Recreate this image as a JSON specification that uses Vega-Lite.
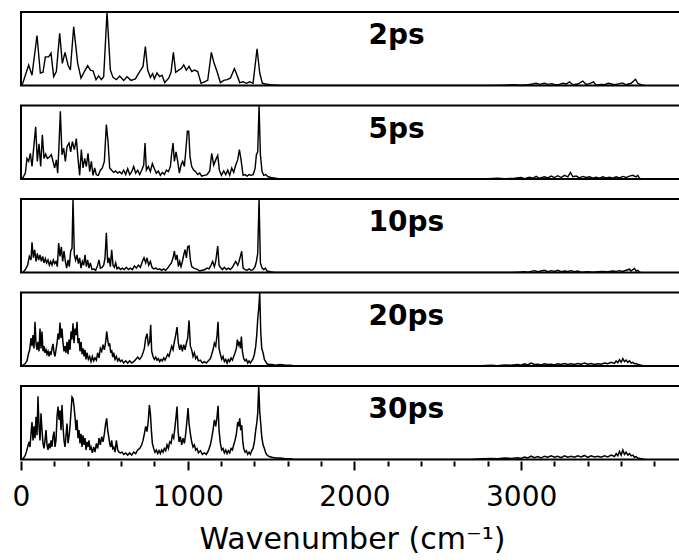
{
"$schema": "https://vega.github.io/schema/vega-lite/v6.json",
"padding": {"left": 12, "top": 11, "right": 0, "bottom": 0},
"background": "white",
"config": {"view": {"stroke": "black", "strokeWidth": 2}, "font": "DejaVu Sans"},
"data": {"values": [
{"p":"2ps","x":4,"y":0},{"p":"2ps","x":12,"y":0.04},{"p":"2ps","x":46,"y":0.28},{"p":"2ps","x":66,"y":0.14},{"p":"2ps","x":96,"y":0.68},{"p":"2ps","x":116,"y":0.17},{"p":"2ps","x":132,"y":0.18},{"p":"2ps","x":146,"y":0.39},{"p":"2ps","x":166,"y":0.39},{"p":"2ps","x":180,"y":0.44},{"p":"2ps","x":196,"y":0.12},{"p":"2ps","x":212,"y":0.19},{"p":"2ps","x":232,"y":0.71},{"p":"2ps","x":248,"y":0.30},{"p":"2ps","x":264,"y":0.45},{"p":"2ps","x":282,"y":0.28},{"p":"2ps","x":296,"y":0.21},{"p":"2ps","x":316,"y":0.80},{"p":"2ps","x":340,"y":0.30},{"p":"2ps","x":360,"y":0.10},{"p":"2ps","x":380,"y":0.19},{"p":"2ps","x":400,"y":0.27},{"p":"2ps","x":416,"y":0.21},{"p":"2ps","x":432,"y":0.20},{"p":"2ps","x":450,"y":0.08},{"p":"2ps","x":466,"y":0.13},{"p":"2ps","x":482,"y":0.08},{"p":"2ps","x":496,"y":0.12},{"p":"2ps","x":516,"y":1.0},{"p":"2ps","x":536,"y":0.21},{"p":"2ps","x":552,"y":0.11},{"p":"2ps","x":572,"y":0.08},{"p":"2ps","x":592,"y":0.13},{"p":"2ps","x":616,"y":0.07},{"p":"2ps","x":636,"y":0.12},{"p":"2ps","x":660,"y":0.07},{"p":"2ps","x":686,"y":0.09},{"p":"2ps","x":712,"y":0.19},{"p":"2ps","x":732,"y":0.26},{"p":"2ps","x":746,"y":0.53},{"p":"2ps","x":760,"y":0.21},{"p":"2ps","x":776,"y":0.11},{"p":"2ps","x":790,"y":0.16},{"p":"2ps","x":800,"y":0.09},{"p":"2ps","x":816,"y":0.17},{"p":"2ps","x":832,"y":0.12},{"p":"2ps","x":846,"y":0.14},{"p":"2ps","x":862,"y":0.04},{"p":"2ps","x":886,"y":0.10},{"p":"2ps","x":900,"y":0.18},{"p":"2ps","x":914,"y":0.45},{"p":"2ps","x":928,"y":0.18},{"p":"2ps","x":946,"y":0.21},{"p":"2ps","x":962,"y":0.23},{"p":"2ps","x":976,"y":0.28},{"p":"2ps","x":992,"y":0.21},{"p":"2ps","x":1008,"y":0.26},{"p":"2ps","x":1024,"y":0.19},{"p":"2ps","x":1040,"y":0.21},{"p":"2ps","x":1060,"y":0.19},{"p":"2ps","x":1080,"y":0.03},{"p":"2ps","x":1100,"y":0.05},{"p":"2ps","x":1120,"y":0.07},{"p":"2ps","x":1142,"y":0.45},{"p":"2ps","x":1156,"y":0.32},{"p":"2ps","x":1176,"y":0.19},{"p":"2ps","x":1196,"y":0.04},{"p":"2ps","x":1216,"y":0.07},{"p":"2ps","x":1236,"y":0.08},{"p":"2ps","x":1256,"y":0.10},{"p":"2ps","x":1280,"y":0.23},{"p":"2ps","x":1296,"y":0.14},{"p":"2ps","x":1312,"y":0.04},{"p":"2ps","x":1332,"y":0.05},{"p":"2ps","x":1352,"y":0.03},{"p":"2ps","x":1372,"y":0.05},{"p":"2ps","x":1392,"y":0.03},{"p":"2ps","x":1416,"y":0.50},{"p":"2ps","x":1432,"y":0.17},{"p":"2ps","x":1448,"y":0.03},{"p":"2ps","x":1466,"y":0.02},{"p":"2ps","x":1496,"y":0.01},{"p":"2ps","x":1536,"y":0.005},{"p":"2ps","x":1566,"y":0},
{"p":"2ps","x":2800,"y":0},{"p":"2ps","x":2900,"y":0.005},{"p":"2ps","x":2960,"y":0.01},{"p":"2ps","x":3000,"y":0.005},{"p":"2ps","x":3040,"y":0.01},{"p":"2ps","x":3070,"y":0.02},{"p":"2ps","x":3090,"y":0.03},{"p":"2ps","x":3110,"y":0.015},{"p":"2ps","x":3140,"y":0.03},{"p":"2ps","x":3160,"y":0.015},{"p":"2ps","x":3185,"y":0.025},{"p":"2ps","x":3200,"y":0.01},{"p":"2ps","x":3230,"y":0.015},{"p":"2ps","x":3250,"y":0.03},{"p":"2ps","x":3270,"y":0.02},{"p":"2ps","x":3290,"y":0.05},{"p":"2ps","x":3310,"y":0.01},{"p":"2ps","x":3340,"y":0.02},{"p":"2ps","x":3370,"y":0.06},{"p":"2ps","x":3390,"y":0.015},{"p":"2ps","x":3410,"y":0.025},{"p":"2ps","x":3434,"y":0.05},{"p":"2ps","x":3450,"y":0.005},{"p":"2ps","x":3480,"y":0.015},{"p":"2ps","x":3500,"y":0.01},{"p":"2ps","x":3524,"y":0.03},{"p":"2ps","x":3560,"y":0.01},{"p":"2ps","x":3590,"y":0.025},{"p":"2ps","x":3608,"y":0.035},{"p":"2ps","x":3630,"y":0.01},{"p":"2ps","x":3660,"y":0.03},{"p":"2ps","x":3686,"y":0.085},{"p":"2ps","x":3700,"y":0.03},{"p":"2ps","x":3720,"y":0.01},{"p":"2ps","x":3740,"y":0},
{"p":"5ps","x":4,"y":0},{"p":"5ps","x":12,"y":0.02},{"p":"5ps","x":26,"y":0.08},{"p":"5ps","x":36,"y":0.28},{"p":"5ps","x":46,"y":0.24},{"p":"5ps","x":56,"y":0.35},{"p":"5ps","x":66,"y":0.17},{"p":"5ps","x":76,"y":0.42},{"p":"5ps","x":88,"y":0.71},{"p":"5ps","x":98,"y":0.24},{"p":"5ps","x":108,"y":0.48},{"p":"5ps","x":118,"y":0.17},{"p":"5ps","x":128,"y":0.60},{"p":"5ps","x":138,"y":0.28},{"p":"5ps","x":148,"y":0.34},{"p":"5ps","x":158,"y":0.28},{"p":"5ps","x":170,"y":0.30},{"p":"5ps","x":182,"y":0.33},{"p":"5ps","x":192,"y":0.24},{"p":"5ps","x":202,"y":0.15},{"p":"5ps","x":212,"y":0.26},{"p":"5ps","x":220,"y":0.08},{"p":"5ps","x":228,"y":0.46},{"p":"5ps","x":236,"y":0.92},{"p":"5ps","x":246,"y":0.33},{"p":"5ps","x":256,"y":0.42},{"p":"5ps","x":266,"y":0.24},{"p":"5ps","x":276,"y":0.44},{"p":"5ps","x":288,"y":0.49},{"p":"5ps","x":298,"y":0.37},{"p":"5ps","x":308,"y":0.51},{"p":"5ps","x":320,"y":0.40},{"p":"5ps","x":332,"y":0.55},{"p":"5ps","x":342,"y":0.28},{"p":"5ps","x":352,"y":0.05},{"p":"5ps","x":362,"y":0.40},{"p":"5ps","x":372,"y":0.15},{"p":"5ps","x":382,"y":0.28},{"p":"5ps","x":392,"y":0.17},{"p":"5ps","x":402,"y":0.35},{"p":"5ps","x":412,"y":0.10},{"p":"5ps","x":422,"y":0.24},{"p":"5ps","x":432,"y":0.05},{"p":"5ps","x":442,"y":0.15},{"p":"5ps","x":452,"y":0.06},{"p":"5ps","x":464,"y":0.05},{"p":"5ps","x":476,"y":0.12},{"p":"5ps","x":488,"y":0.15},{"p":"5ps","x":500,"y":0.24},{"p":"5ps","x":512,"y":0.74},{"p":"5ps","x":522,"y":0.51},{"p":"5ps","x":532,"y":0.15},{"p":"5ps","x":544,"y":0.12},{"p":"5ps","x":556,"y":0.09},{"p":"5ps","x":568,"y":0.11},{"p":"5ps","x":580,"y":0.08},{"p":"5ps","x":592,"y":0.10},{"p":"5ps","x":604,"y":0.07},{"p":"5ps","x":616,"y":0.12},{"p":"5ps","x":628,"y":0.06},{"p":"5ps","x":640,"y":0.14},{"p":"5ps","x":652,"y":0.06},{"p":"5ps","x":664,"y":0.10},{"p":"5ps","x":676,"y":0.17},{"p":"5ps","x":688,"y":0.08},{"p":"5ps","x":700,"y":0.12},{"p":"5ps","x":712,"y":0.06},{"p":"5ps","x":724,"y":0.12},{"p":"5ps","x":736,"y":0.19},{"p":"5ps","x":744,"y":0.49},{"p":"5ps","x":752,"y":0.12},{"p":"5ps","x":764,"y":0.17},{"p":"5ps","x":776,"y":0.10},{"p":"5ps","x":788,"y":0.21},{"p":"5ps","x":800,"y":0.14},{"p":"5ps","x":812,"y":0.08},{"p":"5ps","x":824,"y":0.11},{"p":"5ps","x":836,"y":0.05},{"p":"5ps","x":848,"y":0.09},{"p":"5ps","x":860,"y":0.06},{"p":"5ps","x":872,"y":0.12},{"p":"5ps","x":884,"y":0.10},{"p":"5ps","x":896,"y":0.17},{"p":"5ps","x":904,"y":0.35},{"p":"5ps","x":912,"y":0.49},{"p":"5ps","x":920,"y":0.24},{"p":"5ps","x":930,"y":0.37},{"p":"5ps","x":940,"y":0.24},{"p":"5ps","x":950,"y":0.08},{"p":"5ps","x":960,"y":0.19},{"p":"5ps","x":970,"y":0.24},{"p":"5ps","x":980,"y":0.17},{"p":"5ps","x":988,"y":0.37},{"p":"5ps","x":998,"y":0.65},{"p":"5ps","x":1006,"y":0.65},{"p":"5ps","x":1014,"y":0.30},{"p":"5ps","x":1024,"y":0.17},{"p":"5ps","x":1036,"y":0.12},{"p":"5ps","x":1048,"y":0.10},{"p":"5ps","x":1060,"y":0.06},{"p":"5ps","x":1072,"y":0.08},{"p":"5ps","x":1084,"y":0.04},{"p":"5ps","x":1100,"y":0.05},{"p":"5ps","x":1116,"y":0.06},{"p":"5ps","x":1132,"y":0.11},{"p":"5ps","x":1144,"y":0.35},{"p":"5ps","x":1156,"y":0.19},{"p":"5ps","x":1168,"y":0.26},{"p":"5ps","x":1180,"y":0.32},{"p":"5ps","x":1190,"y":0.12},{"p":"5ps","x":1202,"y":0.05},{"p":"5ps","x":1216,"y":0.11},{"p":"5ps","x":1228,"y":0.06},{"p":"5ps","x":1240,"y":0.12},{"p":"5ps","x":1252,"y":0.05},{"p":"5ps","x":1264,"y":0.15},{"p":"5ps","x":1276,"y":0.09},{"p":"5ps","x":1288,"y":0.19},{"p":"5ps","x":1300,"y":0.26},{"p":"5ps","x":1310,"y":0.40},{"p":"5ps","x":1320,"y":0.26},{"p":"5ps","x":1332,"y":0.05},{"p":"5ps","x":1344,"y":0.06},{"p":"5ps","x":1356,"y":0.04},{"p":"5ps","x":1368,"y":0.06},{"p":"5ps","x":1380,"y":0.05},{"p":"5ps","x":1392,"y":0.06},{"p":"5ps","x":1404,"y":0.14},{"p":"5ps","x":1412,"y":0.33},{"p":"5ps","x":1420,"y":0.37},{"p":"5ps","x":1428,"y":1.0},{"p":"5ps","x":1436,"y":0.33},{"p":"5ps","x":1446,"y":0.10},{"p":"5ps","x":1456,"y":0.05},{"p":"5ps","x":1468,"y":0.06},{"p":"5ps","x":1482,"y":0.03},{"p":"5ps","x":1500,"y":0.02},{"p":"5ps","x":1526,"y":0.01},{"p":"5ps","x":1552,"y":0},
{"p":"5ps","x":2740,"y":0},{"p":"5ps","x":2800,"y":0.005},{"p":"5ps","x":2860,"y":0.01},{"p":"5ps","x":2900,"y":0.005},{"p":"5ps","x":2960,"y":0.01},{"p":"5ps","x":3000,"y":0.02},{"p":"5ps","x":3020,"y":0.005},{"p":"5ps","x":3050,"y":0.025},{"p":"5ps","x":3070,"y":0.01},{"p":"5ps","x":3090,"y":0.035},{"p":"5ps","x":3110,"y":0.01},{"p":"5ps","x":3140,"y":0.03},{"p":"5ps","x":3160,"y":0.015},{"p":"5ps","x":3180,"y":0.04},{"p":"5ps","x":3200,"y":0.02},{"p":"5ps","x":3220,"y":0.045},{"p":"5ps","x":3240,"y":0.02},{"p":"5ps","x":3260,"y":0.05},{"p":"5ps","x":3280,"y":0.03},{"p":"5ps","x":3296,"y":0.09},{"p":"5ps","x":3310,"y":0.03},{"p":"5ps","x":3330,"y":0.04},{"p":"5ps","x":3350,"y":0.015},{"p":"5ps","x":3370,"y":0.035},{"p":"5ps","x":3390,"y":0.02},{"p":"5ps","x":3410,"y":0.03},{"p":"5ps","x":3430,"y":0.01},{"p":"5ps","x":3450,"y":0.025},{"p":"5ps","x":3470,"y":0.01},{"p":"5ps","x":3490,"y":0.03},{"p":"5ps","x":3510,"y":0.015},{"p":"5ps","x":3530,"y":0.025},{"p":"5ps","x":3550,"y":0.01},{"p":"5ps","x":3570,"y":0.03},{"p":"5ps","x":3590,"y":0.015},{"p":"5ps","x":3610,"y":0.035},{"p":"5ps","x":3630,"y":0.02},{"p":"5ps","x":3650,"y":0.04},{"p":"5ps","x":3670,"y":0.05},{"p":"5ps","x":3690,"y":0.03},{"p":"5ps","x":3700,"y":0.05},{"p":"5ps","x":3710,"y":0.01},{"p":"5ps","x":3720,"y":0},
{"p":"10ps","x":4,"y":0},{"p":"10ps","x":16,"y":0.01},{"p":"10ps","x":28,"y":0.05},{"p":"10ps","x":40,"y":0.10},{"p":"10ps","x":50,"y":0.22},{"p":"10ps","x":60,"y":0.17},{"p":"10ps","x":66,"y":0.41},{"p":"10ps","x":74,"y":0.20},{"p":"10ps","x":82,"y":0.31},{"p":"10ps","x":90,"y":0.15},{"p":"10ps","x":98,"y":0.26},{"p":"10ps","x":106,"y":0.17},{"p":"10ps","x":114,"y":0.24},{"p":"10ps","x":122,"y":0.15},{"p":"10ps","x":130,"y":0.22},{"p":"10ps","x":138,"y":0.13},{"p":"10ps","x":146,"y":0.19},{"p":"10ps","x":154,"y":0.13},{"p":"10ps","x":162,"y":0.17},{"p":"10ps","x":170,"y":0.10},{"p":"10ps","x":178,"y":0.15},{"p":"10ps","x":186,"y":0.10},{"p":"10ps","x":194,"y":0.17},{"p":"10ps","x":202,"y":0.12},{"p":"10ps","x":210,"y":0.15},{"p":"10ps","x":218,"y":0.08},{"p":"10ps","x":226,"y":0.40},{"p":"10ps","x":234,"y":0.22},{"p":"10ps","x":242,"y":0.35},{"p":"10ps","x":250,"y":0.15},{"p":"10ps","x":258,"y":0.29},{"p":"10ps","x":266,"y":0.15},{"p":"10ps","x":274,"y":0.06},{"p":"10ps","x":282,"y":0.17},{"p":"10ps","x":290,"y":0.08},{"p":"10ps","x":298,"y":0.29},{"p":"10ps","x":306,"y":0.33},{"p":"10ps","x":312,"y":1.0},{"p":"10ps","x":320,"y":0.24},{"p":"10ps","x":328,"y":0.17},{"p":"10ps","x":336,"y":0.24},{"p":"10ps","x":344,"y":0.12},{"p":"10ps","x":352,"y":0.20},{"p":"10ps","x":360,"y":0.06},{"p":"10ps","x":368,"y":0.15},{"p":"10ps","x":376,"y":0.10},{"p":"10ps","x":384,"y":0.24},{"p":"10ps","x":392,"y":0.08},{"p":"10ps","x":400,"y":0.17},{"p":"10ps","x":408,"y":0.06},{"p":"10ps","x":416,"y":0.13},{"p":"10ps","x":426,"y":0.04},{"p":"10ps","x":436,"y":0.05},{"p":"10ps","x":448,"y":0.03},{"p":"10ps","x":460,"y":0.10},{"p":"10ps","x":468,"y":0.17},{"p":"10ps","x":476,"y":0.06},{"p":"10ps","x":486,"y":0.07},{"p":"10ps","x":496,"y":0.10},{"p":"10ps","x":504,"y":0.20},{"p":"10ps","x":512,"y":0.54},{"p":"10ps","x":520,"y":0.13},{"p":"10ps","x":528,"y":0.20},{"p":"10ps","x":536,"y":0.08},{"p":"10ps","x":544,"y":0.31},{"p":"10ps","x":552,"y":0.10},{"p":"10ps","x":560,"y":0.07},{"p":"10ps","x":568,"y":0.13},{"p":"10ps","x":576,"y":0.05},{"p":"10ps","x":586,"y":0.07},{"p":"10ps","x":596,"y":0.04},{"p":"10ps","x":608,"y":0.06},{"p":"10ps","x":620,"y":0.04},{"p":"10ps","x":632,"y":0.07},{"p":"10ps","x":644,"y":0.04},{"p":"10ps","x":656,"y":0.06},{"p":"10ps","x":668,"y":0.04},{"p":"10ps","x":680,"y":0.09},{"p":"10ps","x":692,"y":0.06},{"p":"10ps","x":704,"y":0.10},{"p":"10ps","x":716,"y":0.07},{"p":"10ps","x":728,"y":0.15},{"p":"10ps","x":738,"y":0.20},{"p":"10ps","x":748,"y":0.13},{"p":"10ps","x":756,"y":0.20},{"p":"10ps","x":766,"y":0.10},{"p":"10ps","x":776,"y":0.15},{"p":"10ps","x":786,"y":0.07},{"p":"10ps","x":796,"y":0.05},{"p":"10ps","x":808,"y":0.06},{"p":"10ps","x":820,"y":0.04},{"p":"10ps","x":832,"y":0.05},{"p":"10ps","x":844,"y":0.03},{"p":"10ps","x":856,"y":0.05},{"p":"10ps","x":868,"y":0.03},{"p":"10ps","x":880,"y":0.06},{"p":"10ps","x":892,"y":0.10},{"p":"10ps","x":902,"y":0.13},{"p":"10ps","x":912,"y":0.20},{"p":"10ps","x":920,"y":0.29},{"p":"10ps","x":928,"y":0.17},{"p":"10ps","x":936,"y":0.24},{"p":"10ps","x":944,"y":0.08},{"p":"10ps","x":952,"y":0.15},{"p":"10ps","x":960,"y":0.08},{"p":"10ps","x":968,"y":0.15},{"p":"10ps","x":976,"y":0.24},{"p":"10ps","x":984,"y":0.31},{"p":"10ps","x":992,"y":0.20},{"p":"10ps","x":1000,"y":0.35},{"p":"10ps","x":1008,"y":0.36},{"p":"10ps","x":1016,"y":0.17},{"p":"10ps","x":1024,"y":0.08},{"p":"10ps","x":1036,"y":0.06},{"p":"10ps","x":1048,"y":0.05},{"p":"10ps","x":1060,"y":0.04},{"p":"10ps","x":1072,"y":0.02},{"p":"10ps","x":1088,"y":0.03},{"p":"10ps","x":1104,"y":0.04},{"p":"10ps","x":1116,"y":0.06},{"p":"10ps","x":1128,"y":0.05},{"p":"10ps","x":1140,"y":0.10},{"p":"10ps","x":1150,"y":0.15},{"p":"10ps","x":1160,"y":0.08},{"p":"10ps","x":1168,"y":0.15},{"p":"10ps","x":1180,"y":0.36},{"p":"10ps","x":1188,"y":0.10},{"p":"10ps","x":1196,"y":0.07},{"p":"10ps","x":1208,"y":0.04},{"p":"10ps","x":1220,"y":0.07},{"p":"10ps","x":1232,"y":0.04},{"p":"10ps","x":1244,"y":0.06},{"p":"10ps","x":1256,"y":0.04},{"p":"10ps","x":1268,"y":0.07},{"p":"10ps","x":1280,"y":0.12},{"p":"10ps","x":1288,"y":0.15},{"p":"10ps","x":1300,"y":0.10},{"p":"10ps","x":1308,"y":0.15},{"p":"10ps","x":1316,"y":0.22},{"p":"10ps","x":1324,"y":0.29},{"p":"10ps","x":1332,"y":0.06},{"p":"10ps","x":1344,"y":0.04},{"p":"10ps","x":1356,"y":0.03},{"p":"10ps","x":1368,"y":0.05},{"p":"10ps","x":1380,"y":0.03},{"p":"10ps","x":1392,"y":0.04},{"p":"10ps","x":1404,"y":0.08},{"p":"10ps","x":1412,"y":0.15},{"p":"10ps","x":1420,"y":0.26},{"p":"10ps","x":1428,"y":1.0},{"p":"10ps","x":1436,"y":0.13},{"p":"10ps","x":1446,"y":0.06},{"p":"10ps","x":1456,"y":0.04},{"p":"10ps","x":1466,"y":0.06},{"p":"10ps","x":1476,"y":0.02},{"p":"10ps","x":1496,"y":0.01},{"p":"10ps","x":1520,"y":0},
{"p":"10ps","x":2940,"y":0},{"p":"10ps","x":2980,"y":0.005},{"p":"10ps","x":3020,"y":0.01},{"p":"10ps","x":3040,"y":0.005},{"p":"10ps","x":3060,"y":0.015},{"p":"10ps","x":3080,"y":0.025},{"p":"10ps","x":3100,"y":0.01},{"p":"10ps","x":3120,"y":0.02},{"p":"10ps","x":3140,"y":0.03},{"p":"10ps","x":3160,"y":0.01},{"p":"10ps","x":3180,"y":0.025},{"p":"10ps","x":3200,"y":0.015},{"p":"10ps","x":3220,"y":0.03},{"p":"10ps","x":3240,"y":0.01},{"p":"10ps","x":3260,"y":0.02},{"p":"10ps","x":3280,"y":0.015},{"p":"10ps","x":3300,"y":0.025},{"p":"10ps","x":3320,"y":0.01},{"p":"10ps","x":3340,"y":0.02},{"p":"10ps","x":3360,"y":0.005},{"p":"10ps","x":3400,"y":0.01},{"p":"10ps","x":3430,"y":0.005},{"p":"10ps","x":3460,"y":0.01},{"p":"10ps","x":3490,"y":0.015},{"p":"10ps","x":3520,"y":0.01},{"p":"10ps","x":3550,"y":0.02},{"p":"10ps","x":3570,"y":0.015},{"p":"10ps","x":3590,"y":0.025},{"p":"10ps","x":3610,"y":0.015},{"p":"10ps","x":3630,"y":0.03},{"p":"10ps","x":3650,"y":0.045},{"p":"10ps","x":3660,"y":0.02},{"p":"10ps","x":3670,"y":0.04},{"p":"10ps","x":3680,"y":0.055},{"p":"10ps","x":3690,"y":0.02},{"p":"10ps","x":3700,"y":0.03},{"p":"10ps","x":3710,"y":0.005},{"p":"10ps","x":3720,"y":0},
{"p":"20ps","x":4,"y":0},{"p":"20ps","x":12,"y":0.01},{"p":"20ps","x":24,"y":0.03},{"p":"20ps","x":36,"y":0.07},{"p":"20ps","x":44,"y":0.16},{"p":"20ps","x":52,"y":0.22},{"p":"20ps","x":60,"y":0.38},{"p":"20ps","x":66,"y":0.27},{"p":"20ps","x":72,"y":0.42},{"p":"20ps","x":78,"y":0.24},{"p":"20ps","x":84,"y":0.60},{"p":"20ps","x":90,"y":0.31},{"p":"20ps","x":96,"y":0.22},{"p":"20ps","x":102,"y":0.33},{"p":"20ps","x":108,"y":0.20},{"p":"20ps","x":114,"y":0.51},{"p":"20ps","x":120,"y":0.24},{"p":"20ps","x":126,"y":0.47},{"p":"20ps","x":132,"y":0.20},{"p":"20ps","x":138,"y":0.27},{"p":"20ps","x":144,"y":0.18},{"p":"20ps","x":150,"y":0.22},{"p":"20ps","x":156,"y":0.16},{"p":"20ps","x":162,"y":0.20},{"p":"20ps","x":168,"y":0.13},{"p":"20ps","x":174,"y":0.20},{"p":"20ps","x":180,"y":0.15},{"p":"20ps","x":186,"y":0.24},{"p":"20ps","x":192,"y":0.30},{"p":"20ps","x":198,"y":0.18},{"p":"20ps","x":204,"y":0.13},{"p":"20ps","x":210,"y":0.22},{"p":"20ps","x":216,"y":0.31},{"p":"20ps","x":222,"y":0.44},{"p":"20ps","x":228,"y":0.36},{"p":"20ps","x":234,"y":0.59},{"p":"20ps","x":240,"y":0.38},{"p":"20ps","x":246,"y":0.51},{"p":"20ps","x":252,"y":0.31},{"p":"20ps","x":258,"y":0.20},{"p":"20ps","x":264,"y":0.27},{"p":"20ps","x":270,"y":0.18},{"p":"20ps","x":276,"y":0.33},{"p":"20ps","x":282,"y":0.16},{"p":"20ps","x":288,"y":0.36},{"p":"20ps","x":294,"y":0.22},{"p":"20ps","x":300,"y":0.47},{"p":"20ps","x":306,"y":0.36},{"p":"20ps","x":312,"y":0.58},{"p":"20ps","x":318,"y":0.31},{"p":"20ps","x":324,"y":0.51},{"p":"20ps","x":330,"y":0.42},{"p":"20ps","x":336,"y":0.60},{"p":"20ps","x":342,"y":0.31},{"p":"20ps","x":348,"y":0.38},{"p":"20ps","x":354,"y":0.20},{"p":"20ps","x":360,"y":0.33},{"p":"20ps","x":366,"y":0.16},{"p":"20ps","x":372,"y":0.24},{"p":"20ps","x":378,"y":0.13},{"p":"20ps","x":384,"y":0.22},{"p":"20ps","x":390,"y":0.09},{"p":"20ps","x":396,"y":0.18},{"p":"20ps","x":404,"y":0.09},{"p":"20ps","x":412,"y":0.13},{"p":"20ps","x":420,"y":0.06},{"p":"20ps","x":428,"y":0.13},{"p":"20ps","x":436,"y":0.07},{"p":"20ps","x":444,"y":0.11},{"p":"20ps","x":452,"y":0.08},{"p":"20ps","x":460,"y":0.18},{"p":"20ps","x":468,"y":0.11},{"p":"20ps","x":476,"y":0.24},{"p":"20ps","x":484,"y":0.20},{"p":"20ps","x":492,"y":0.29},{"p":"20ps","x":500,"y":0.22},{"p":"20ps","x":508,"y":0.33},{"p":"20ps","x":514,"y":0.47},{"p":"20ps","x":520,"y":0.36},{"p":"20ps","x":526,"y":0.27},{"p":"20ps","x":532,"y":0.31},{"p":"20ps","x":538,"y":0.18},{"p":"20ps","x":544,"y":0.22},{"p":"20ps","x":550,"y":0.12},{"p":"20ps","x":556,"y":0.18},{"p":"20ps","x":564,"y":0.09},{"p":"20ps","x":572,"y":0.13},{"p":"20ps","x":580,"y":0.07},{"p":"20ps","x":588,"y":0.10},{"p":"20ps","x":596,"y":0.06},{"p":"20ps","x":606,"y":0.08},{"p":"20ps","x":616,"y":0.04},{"p":"20ps","x":628,"y":0.07},{"p":"20ps","x":640,"y":0.04},{"p":"20ps","x":652,"y":0.07},{"p":"20ps","x":664,"y":0.04},{"p":"20ps","x":676,"y":0.06},{"p":"20ps","x":688,"y":0.09},{"p":"20ps","x":700,"y":0.12},{"p":"20ps","x":712,"y":0.09},{"p":"20ps","x":724,"y":0.13},{"p":"20ps","x":732,"y":0.18},{"p":"20ps","x":740,"y":0.24},{"p":"20ps","x":748,"y":0.38},{"p":"20ps","x":756,"y":0.44},{"p":"20ps","x":764,"y":0.29},{"p":"20ps","x":772,"y":0.33},{"p":"20ps","x":778,"y":0.56},{"p":"20ps","x":784,"y":0.20},{"p":"20ps","x":792,"y":0.13},{"p":"20ps","x":800,"y":0.09},{"p":"20ps","x":808,"y":0.12},{"p":"20ps","x":816,"y":0.08},{"p":"20ps","x":824,"y":0.10},{"p":"20ps","x":832,"y":0.06},{"p":"20ps","x":840,"y":0.09},{"p":"20ps","x":848,"y":0.07},{"p":"20ps","x":856,"y":0.11},{"p":"20ps","x":864,"y":0.08},{"p":"20ps","x":872,"y":0.12},{"p":"20ps","x":880,"y":0.16},{"p":"20ps","x":888,"y":0.13},{"p":"20ps","x":896,"y":0.20},{"p":"20ps","x":904,"y":0.27},{"p":"20ps","x":912,"y":0.22},{"p":"20ps","x":920,"y":0.33},{"p":"20ps","x":928,"y":0.42},{"p":"20ps","x":936,"y":0.53},{"p":"20ps","x":944,"y":0.31},{"p":"20ps","x":952,"y":0.22},{"p":"20ps","x":960,"y":0.29},{"p":"20ps","x":968,"y":0.20},{"p":"20ps","x":976,"y":0.29},{"p":"20ps","x":984,"y":0.22},{"p":"20ps","x":992,"y":0.31},{"p":"20ps","x":1000,"y":0.38},{"p":"20ps","x":1008,"y":0.62},{"p":"20ps","x":1016,"y":0.27},{"p":"20ps","x":1024,"y":0.22},{"p":"20ps","x":1032,"y":0.13},{"p":"20ps","x":1040,"y":0.18},{"p":"20ps","x":1048,"y":0.10},{"p":"20ps","x":1056,"y":0.13},{"p":"20ps","x":1064,"y":0.07},{"p":"20ps","x":1076,"y":0.08},{"p":"20ps","x":1088,"y":0.04},{"p":"20ps","x":1100,"y":0.06},{"p":"20ps","x":1112,"y":0.04},{"p":"20ps","x":1124,"y":0.07},{"p":"20ps","x":1136,"y":0.10},{"p":"20ps","x":1144,"y":0.16},{"p":"20ps","x":1152,"y":0.22},{"p":"20ps","x":1160,"y":0.31},{"p":"20ps","x":1168,"y":0.27},{"p":"20ps","x":1176,"y":0.42},{"p":"20ps","x":1182,"y":0.60},{"p":"20ps","x":1188,"y":0.24},{"p":"20ps","x":1196,"y":0.16},{"p":"20ps","x":1204,"y":0.09},{"p":"20ps","x":1212,"y":0.13},{"p":"20ps","x":1220,"y":0.06},{"p":"20ps","x":1228,"y":0.09},{"p":"20ps","x":1236,"y":0.04},{"p":"20ps","x":1244,"y":0.09},{"p":"20ps","x":1252,"y":0.06},{"p":"20ps","x":1260,"y":0.11},{"p":"20ps","x":1268,"y":0.08},{"p":"20ps","x":1276,"y":0.13},{"p":"20ps","x":1284,"y":0.18},{"p":"20ps","x":1292,"y":0.24},{"p":"20ps","x":1298,"y":0.36},{"p":"20ps","x":1304,"y":0.29},{"p":"20ps","x":1310,"y":0.33},{"p":"20ps","x":1316,"y":0.24},{"p":"20ps","x":1322,"y":0.40},{"p":"20ps","x":1328,"y":0.20},{"p":"20ps","x":1336,"y":0.10},{"p":"20ps","x":1344,"y":0.07},{"p":"20ps","x":1352,"y":0.09},{"p":"20ps","x":1360,"y":0.04},{"p":"20ps","x":1368,"y":0.07},{"p":"20ps","x":1376,"y":0.04},{"p":"20ps","x":1384,"y":0.07},{"p":"20ps","x":1392,"y":0.10},{"p":"20ps","x":1400,"y":0.16},{"p":"20ps","x":1408,"y":0.27},{"p":"20ps","x":1414,"y":0.42},{"p":"20ps","x":1420,"y":0.64},{"p":"20ps","x":1426,"y":0.78},{"p":"20ps","x":1432,"y":1.0},{"p":"20ps","x":1438,"y":0.47},{"p":"20ps","x":1444,"y":0.24},{"p":"20ps","x":1452,"y":0.18},{"p":"20ps","x":1460,"y":0.09},{"p":"20ps","x":1468,"y":0.06},{"p":"20ps","x":1476,"y":0.03},{"p":"20ps","x":1488,"y":0.02},{"p":"20ps","x":1506,"y":0.02},{"p":"20ps","x":1526,"y":0.01},{"p":"20ps","x":1556,"y":0.02},{"p":"20ps","x":1586,"y":0.01},{"p":"20ps","x":1616,"y":0.01},{"p":"20ps","x":1640,"y":0},
{"p":"20ps","x":2700,"y":0},{"p":"20ps","x":2760,"y":0.005},{"p":"20ps","x":2820,"y":0.01},{"p":"20ps","x":2860,"y":0.005},{"p":"20ps","x":2900,"y":0.015},{"p":"20ps","x":2940,"y":0.01},{"p":"20ps","x":2980,"y":0.02},{"p":"20ps","x":3000,"y":0.01},{"p":"20ps","x":3020,"y":0.03},{"p":"20ps","x":3040,"y":0.015},{"p":"20ps","x":3060,"y":0.04},{"p":"20ps","x":3080,"y":0.02},{"p":"20ps","x":3100,"y":0.025},{"p":"20ps","x":3120,"y":0.015},{"p":"20ps","x":3140,"y":0.03},{"p":"20ps","x":3160,"y":0.02},{"p":"20ps","x":3180,"y":0.025},{"p":"20ps","x":3200,"y":0.015},{"p":"20ps","x":3220,"y":0.03},{"p":"20ps","x":3240,"y":0.02},{"p":"20ps","x":3260,"y":0.035},{"p":"20ps","x":3280,"y":0.02},{"p":"20ps","x":3300,"y":0.03},{"p":"20ps","x":3320,"y":0.02},{"p":"20ps","x":3340,"y":0.035},{"p":"20ps","x":3360,"y":0.025},{"p":"20ps","x":3380,"y":0.04},{"p":"20ps","x":3400,"y":0.025},{"p":"20ps","x":3420,"y":0.035},{"p":"20ps","x":3440,"y":0.02},{"p":"20ps","x":3460,"y":0.03},{"p":"20ps","x":3480,"y":0.025},{"p":"20ps","x":3500,"y":0.04},{"p":"20ps","x":3520,"y":0.03},{"p":"20ps","x":3540,"y":0.05},{"p":"20ps","x":3560,"y":0.035},{"p":"20ps","x":3570,"y":0.07},{"p":"20ps","x":3580,"y":0.045},{"p":"20ps","x":3590,"y":0.085},{"p":"20ps","x":3600,"y":0.05},{"p":"20ps","x":3610,"y":0.10},{"p":"20ps","x":3620,"y":0.06},{"p":"20ps","x":3630,"y":0.08},{"p":"20ps","x":3640,"y":0.05},{"p":"20ps","x":3650,"y":0.07},{"p":"20ps","x":3660,"y":0.04},{"p":"20ps","x":3670,"y":0.05},{"p":"20ps","x":3680,"y":0.03},{"p":"20ps","x":3690,"y":0.035},{"p":"20ps","x":3700,"y":0.02},{"p":"20ps","x":3720,"y":0.01},{"p":"20ps","x":3740,"y":0},
{"p":"30ps","x":4,"y":0},{"p":"30ps","x":12,"y":0.01},{"p":"30ps","x":24,"y":0.05},{"p":"30ps","x":32,"y":0.10},{"p":"30ps","x":40,"y":0.17},{"p":"30ps","x":48,"y":0.24},{"p":"30ps","x":54,"y":0.17},{"p":"30ps","x":60,"y":0.35},{"p":"30ps","x":66,"y":0.51},{"p":"30ps","x":72,"y":0.26},{"p":"30ps","x":78,"y":0.45},{"p":"30ps","x":84,"y":0.29},{"p":"30ps","x":90,"y":0.58},{"p":"30ps","x":96,"y":0.33},{"p":"30ps","x":102,"y":0.86},{"p":"30ps","x":108,"y":0.45},{"p":"30ps","x":114,"y":0.26},{"p":"30ps","x":120,"y":0.63},{"p":"30ps","x":126,"y":0.40},{"p":"30ps","x":132,"y":0.22},{"p":"30ps","x":138,"y":0.15},{"p":"30ps","x":144,"y":0.26},{"p":"30ps","x":150,"y":0.40},{"p":"30ps","x":156,"y":0.20},{"p":"30ps","x":162,"y":0.13},{"p":"30ps","x":168,"y":0.22},{"p":"30ps","x":174,"y":0.15},{"p":"30ps","x":180,"y":0.26},{"p":"30ps","x":186,"y":0.17},{"p":"30ps","x":192,"y":0.31},{"p":"30ps","x":198,"y":0.38},{"p":"30ps","x":204,"y":0.17},{"p":"30ps","x":210,"y":0.26},{"p":"30ps","x":216,"y":0.58},{"p":"30ps","x":222,"y":0.72},{"p":"30ps","x":228,"y":0.54},{"p":"30ps","x":234,"y":0.67},{"p":"30ps","x":240,"y":0.40},{"p":"30ps","x":246,"y":0.74},{"p":"30ps","x":252,"y":0.45},{"p":"30ps","x":258,"y":0.26},{"p":"30ps","x":264,"y":0.17},{"p":"30ps","x":270,"y":0.33},{"p":"30ps","x":276,"y":0.49},{"p":"30ps","x":282,"y":0.22},{"p":"30ps","x":288,"y":0.31},{"p":"30ps","x":294,"y":0.45},{"p":"30ps","x":300,"y":0.65},{"p":"30ps","x":306,"y":0.85},{"p":"30ps","x":312,"y":0.83},{"p":"30ps","x":318,"y":0.72},{"p":"30ps","x":324,"y":0.58},{"p":"30ps","x":330,"y":0.40},{"p":"30ps","x":336,"y":0.54},{"p":"30ps","x":342,"y":0.29},{"p":"30ps","x":348,"y":0.40},{"p":"30ps","x":354,"y":0.22},{"p":"30ps","x":360,"y":0.35},{"p":"30ps","x":366,"y":0.17},{"p":"30ps","x":372,"y":0.33},{"p":"30ps","x":378,"y":0.20},{"p":"30ps","x":384,"y":0.29},{"p":"30ps","x":390,"y":0.13},{"p":"30ps","x":396,"y":0.24},{"p":"30ps","x":402,"y":0.17},{"p":"30ps","x":408,"y":0.26},{"p":"30ps","x":414,"y":0.13},{"p":"30ps","x":420,"y":0.17},{"p":"30ps","x":428,"y":0.09},{"p":"30ps","x":436,"y":0.17},{"p":"30ps","x":444,"y":0.10},{"p":"30ps","x":452,"y":0.22},{"p":"30ps","x":460,"y":0.15},{"p":"30ps","x":468,"y":0.29},{"p":"30ps","x":476,"y":0.20},{"p":"30ps","x":484,"y":0.31},{"p":"30ps","x":492,"y":0.24},{"p":"30ps","x":500,"y":0.35},{"p":"30ps","x":508,"y":0.49},{"p":"30ps","x":514,"y":0.56},{"p":"30ps","x":520,"y":0.40},{"p":"30ps","x":526,"y":0.31},{"p":"30ps","x":532,"y":0.22},{"p":"30ps","x":538,"y":0.17},{"p":"30ps","x":544,"y":0.26},{"p":"30ps","x":550,"y":0.15},{"p":"30ps","x":556,"y":0.17},{"p":"30ps","x":564,"y":0.10},{"p":"30ps","x":572,"y":0.26},{"p":"30ps","x":580,"y":0.13},{"p":"30ps","x":588,"y":0.10},{"p":"30ps","x":596,"y":0.09},{"p":"30ps","x":606,"y":0.10},{"p":"30ps","x":616,"y":0.07},{"p":"30ps","x":628,"y":0.09},{"p":"30ps","x":640,"y":0.06},{"p":"30ps","x":652,"y":0.09},{"p":"30ps","x":664,"y":0.06},{"p":"30ps","x":676,"y":0.10},{"p":"30ps","x":688,"y":0.08},{"p":"30ps","x":700,"y":0.13},{"p":"30ps","x":712,"y":0.15},{"p":"30ps","x":724,"y":0.20},{"p":"30ps","x":732,"y":0.26},{"p":"30ps","x":740,"y":0.35},{"p":"30ps","x":748,"y":0.45},{"p":"30ps","x":756,"y":0.38},{"p":"30ps","x":764,"y":0.54},{"p":"30ps","x":770,"y":0.74},{"p":"30ps","x":776,"y":0.63},{"p":"30ps","x":782,"y":0.40},{"p":"30ps","x":788,"y":0.22},{"p":"30ps","x":796,"y":0.15},{"p":"30ps","x":804,"y":0.10},{"p":"30ps","x":812,"y":0.13},{"p":"30ps","x":820,"y":0.08},{"p":"30ps","x":828,"y":0.12},{"p":"30ps","x":836,"y":0.08},{"p":"30ps","x":844,"y":0.13},{"p":"30ps","x":852,"y":0.10},{"p":"30ps","x":860,"y":0.15},{"p":"30ps","x":868,"y":0.12},{"p":"30ps","x":876,"y":0.20},{"p":"30ps","x":884,"y":0.15},{"p":"30ps","x":892,"y":0.24},{"p":"30ps","x":900,"y":0.22},{"p":"30ps","x":908,"y":0.33},{"p":"30ps","x":916,"y":0.29},{"p":"30ps","x":924,"y":0.45},{"p":"30ps","x":930,"y":0.58},{"p":"30ps","x":936,"y":0.72},{"p":"30ps","x":942,"y":0.40},{"p":"30ps","x":948,"y":0.24},{"p":"30ps","x":956,"y":0.31},{"p":"30ps","x":964,"y":0.20},{"p":"30ps","x":972,"y":0.29},{"p":"30ps","x":980,"y":0.22},{"p":"30ps","x":988,"y":0.35},{"p":"30ps","x":996,"y":0.54},{"p":"30ps","x":1002,"y":0.70},{"p":"30ps","x":1008,"y":0.49},{"p":"30ps","x":1016,"y":0.35},{"p":"30ps","x":1024,"y":0.24},{"p":"30ps","x":1032,"y":0.17},{"p":"30ps","x":1040,"y":0.20},{"p":"30ps","x":1048,"y":0.13},{"p":"30ps","x":1056,"y":0.15},{"p":"30ps","x":1064,"y":0.09},{"p":"30ps","x":1076,"y":0.12},{"p":"30ps","x":1088,"y":0.07},{"p":"30ps","x":1100,"y":0.09},{"p":"30ps","x":1112,"y":0.07},{"p":"30ps","x":1124,"y":0.12},{"p":"30ps","x":1136,"y":0.20},{"p":"30ps","x":1144,"y":0.29},{"p":"30ps","x":1152,"y":0.40},{"p":"30ps","x":1160,"y":0.54},{"p":"30ps","x":1168,"y":0.45},{"p":"30ps","x":1176,"y":0.58},{"p":"30ps","x":1182,"y":0.73},{"p":"30ps","x":1188,"y":0.40},{"p":"30ps","x":1196,"y":0.22},{"p":"30ps","x":1204,"y":0.13},{"p":"30ps","x":1212,"y":0.15},{"p":"30ps","x":1220,"y":0.09},{"p":"30ps","x":1228,"y":0.13},{"p":"30ps","x":1236,"y":0.08},{"p":"30ps","x":1244,"y":0.12},{"p":"30ps","x":1252,"y":0.09},{"p":"30ps","x":1260,"y":0.15},{"p":"30ps","x":1268,"y":0.13},{"p":"30ps","x":1276,"y":0.20},{"p":"30ps","x":1284,"y":0.26},{"p":"30ps","x":1292,"y":0.35},{"p":"30ps","x":1300,"y":0.51},{"p":"30ps","x":1306,"y":0.45},{"p":"30ps","x":1312,"y":0.56},{"p":"30ps","x":1318,"y":0.40},{"p":"30ps","x":1324,"y":0.47},{"p":"30ps","x":1330,"y":0.26},{"p":"30ps","x":1336,"y":0.15},{"p":"30ps","x":1344,"y":0.10},{"p":"30ps","x":1352,"y":0.12},{"p":"30ps","x":1360,"y":0.07},{"p":"30ps","x":1368,"y":0.10},{"p":"30ps","x":1376,"y":0.07},{"p":"30ps","x":1384,"y":0.12},{"p":"30ps","x":1392,"y":0.15},{"p":"30ps","x":1400,"y":0.24},{"p":"30ps","x":1408,"y":0.40},{"p":"30ps","x":1414,"y":0.49},{"p":"30ps","x":1420,"y":0.63},{"p":"30ps","x":1426,"y":1.0},{"p":"30ps","x":1432,"y":0.65},{"p":"30ps","x":1438,"y":0.49},{"p":"30ps","x":1444,"y":0.31},{"p":"30ps","x":1452,"y":0.20},{"p":"30ps","x":1460,"y":0.15},{"p":"30ps","x":1468,"y":0.09},{"p":"30ps","x":1476,"y":0.06},{"p":"30ps","x":1488,"y":0.04},{"p":"30ps","x":1506,"y":0.03},{"p":"30ps","x":1526,"y":0.02},{"p":"30ps","x":1556,"y":0.02},{"p":"30ps","x":1586,"y":0.01},{"p":"30ps","x":1616,"y":0.01},{"p":"30ps","x":1640,"y":0},
{"p":"30ps","x":2700,"y":0},{"p":"30ps","x":2760,"y":0.01},{"p":"30ps","x":2820,"y":0.015},{"p":"30ps","x":2860,"y":0.01},{"p":"30ps","x":2900,"y":0.02},{"p":"30ps","x":2940,"y":0.015},{"p":"30ps","x":2980,"y":0.025},{"p":"30ps","x":3000,"y":0.015},{"p":"30ps","x":3020,"y":0.035},{"p":"30ps","x":3040,"y":0.02},{"p":"30ps","x":3060,"y":0.045},{"p":"30ps","x":3080,"y":0.025},{"p":"30ps","x":3100,"y":0.04},{"p":"30ps","x":3120,"y":0.02},{"p":"30ps","x":3140,"y":0.045},{"p":"30ps","x":3160,"y":0.03},{"p":"30ps","x":3180,"y":0.05},{"p":"30ps","x":3200,"y":0.03},{"p":"30ps","x":3220,"y":0.045},{"p":"30ps","x":3240,"y":0.025},{"p":"30ps","x":3260,"y":0.05},{"p":"30ps","x":3280,"y":0.03},{"p":"30ps","x":3300,"y":0.045},{"p":"30ps","x":3320,"y":0.03},{"p":"30ps","x":3340,"y":0.05},{"p":"30ps","x":3360,"y":0.035},{"p":"30ps","x":3380,"y":0.055},{"p":"30ps","x":3400,"y":0.03},{"p":"30ps","x":3420,"y":0.05},{"p":"30ps","x":3440,"y":0.035},{"p":"30ps","x":3460,"y":0.045},{"p":"30ps","x":3480,"y":0.03},{"p":"30ps","x":3500,"y":0.05},{"p":"30ps","x":3520,"y":0.035},{"p":"30ps","x":3540,"y":0.06},{"p":"30ps","x":3560,"y":0.04},{"p":"30ps","x":3570,"y":0.08},{"p":"30ps","x":3580,"y":0.05},{"p":"30ps","x":3590,"y":0.11},{"p":"30ps","x":3600,"y":0.06},{"p":"30ps","x":3610,"y":0.13},{"p":"30ps","x":3620,"y":0.07},{"p":"30ps","x":3630,"y":0.10},{"p":"30ps","x":3640,"y":0.06},{"p":"30ps","x":3650,"y":0.08},{"p":"30ps","x":3660,"y":0.05},{"p":"30ps","x":3670,"y":0.06},{"p":"30ps","x":3680,"y":0.03},{"p":"30ps","x":3690,"y":0.04},{"p":"30ps","x":3700,"y":0.02},{"p":"30ps","x":3720,"y":0.01},{"p":"30ps","x":3740,"y":0},
{"p":"2ps","x":2085,"y":0.56,"t":"2ps"},{"p":"5ps","x":2085,"y":0.56,"t":"5ps"},{"p":"10ps","x":2085,"y":0.56,"t":"10ps"},{"p":"20ps","x":2085,"y":0.56,"t":"20ps"},{"p":"30ps","x":2085,"y":0.56,"t":"30ps"}
]},
"facet": {"row": {"field": "p", "type": "nominal", "sort": ["2ps","5ps","10ps","20ps","30ps"], "header": null, "title": null}},
"spacing": 17.5,
"spec": {
  "width": 662,
  "height": 73.5,
  "encoding": {
    "x": {"field": "x", "type": "quantitative",
      "scale": {"domain": [0, 3971], "nice": false, "zero": false},
      "axis": {"values": [0,200,400,600,800,1000,1200,1400,1600,1800,2000,2200,2400,2600,2800,3000,3200,3400,3600,3800],
        "format": "d", "labelExpr": "datum.value % 1000 === 0 ? datum.label : ''",
        "labelOverlap": false, "labelFlush": false, "grid": false,
        "domain": false,
        "tickColor": "black", "tickWidth": 2,
        "tickSize": {"condition": {"test": "datum.value % 1000 === 0", "value": 9}, "value": 5},
        "labelFont": "DejaVu Sans", "labelFontSize": 28, "labelColor": "black", "labelPadding": 13,
        "title": "Wavenumber (cm⁻¹)", "titleFont": "DejaVu Sans", "titleFontSize": 30, "titleFontWeight": "normal", "titleColor": "black", "titlePadding": 13}},
    "y": {"field": "y", "type": "quantitative", "scale": {"domain": [0, 1], "nice": false}, "axis": null}
  },
  "layer": [
    {"transform": [{"filter": "datum.t == null"}], "mark": {"type": "line", "color": "black", "clip": true},
     "encoding": {"strokeWidth": {"field": "p", "type": "nominal", "scale": {"domain": ["2ps","5ps","10ps","20ps","30ps"], "range": [1.4, 1.5, 1.6, 2.0, 2.3]}, "legend": null}}},
    {"transform": [{"filter": "datum.t != null"}], "mark": {"type": "text", "align": "left", "baseline": "alphabetic", "font": "DejaVu Sans", "fontWeight": "bold", "fontSize": 28, "color": "black"}, "encoding": {"text": {"field": "t"}}}
  ]
}
}
